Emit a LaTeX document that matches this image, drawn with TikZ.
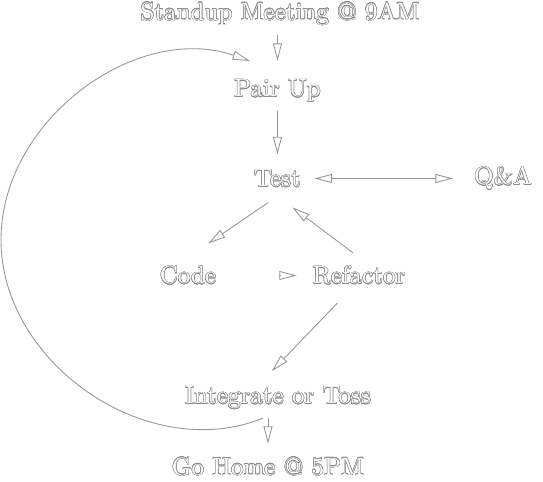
\documentclass[tikz,border=0pt]{standalone}
\usepackage{xcolor}
\usepackage{contour}
\contourlength{0.2pt}
\contournumber{16}
\definecolor{rimgray}{RGB}{140,140,140}
\definecolor{linkgray}{RGB}{150,150,150}
\usetikzlibrary{arrows.meta, positioning, calc}

\tikzset{
  stage/.style={text=white, inner sep=3.33pt},
  flow/.style={-{Triangle[open, length=7pt, width=3.6pt]}, draw=linkgray, line width=0.35pt, shorten >=3pt},
  both/.style={{Triangle[open, length=7pt, width=3.6pt]}-{Triangle[open, length=7pt, width=3.6pt]}, draw=linkgray, line width=0.35pt}
}
\newcommand{\hollow}[1]{\contour{rimgray}{#1}}

\begin{document}
\begin{tikzpicture}[>=Stealth]
    \useasboundingbox (0,0) rectangle (7.634,6.776);

    % the day
    \node[stage] (standup)   at (3.936,6.579) {\hollow{Standup Meeting @ 9AM}};
    \node[stage] (pairup)    at (3.901,5.497) {\hollow{Pair Up}};
    \node[stage] (test)      at (3.901,4.267) {\hollow{Test}};
    \node[stage] (qa)        at (7.072,4.267) {\hollow{Q\&A}};
    \node[stage] (code)      at (2.643,2.903) {\hollow{Code}};
    \node[stage] (refactor)  at (5.047,2.903) {\hollow{Refactor}};
    \node[stage] (integrate) at (3.908,1.181) {\hollow{Integrate or Toss}};
    \node[stage] (gohome)    at (3.768,0.211) {\hollow{Go Home @ 5PM}};
    \coordinate (turn) at (0.014,3.403);

    \draw[flow, shorten >=4pt] (pairup.north |- standup.south) -- (pairup.north);
    \draw[flow, shorten >=2.6pt] (pairup.south) -- (test.north);
    \draw[both, shorten <=2pt, shorten >=5pt] (test.east) -- (qa.west);
    \draw[flow, shorten <=4.5pt, shorten >=9.8pt] (test.south) -- (code.north);
    \draw[flow, shorten <=22.4pt, shorten >=2.8pt] (code) -- (refactor);
    \draw[flow, shorten <=3pt, shorten >=7.5pt] (refactor.north) -- (test.south);
    \draw[flow, shorten <=5.2pt, shorten >=3.7pt] ([xshift=-5pt]refactor.south) -- ([xshift=-5pt]integrate.north);
    \draw[flow, shorten >=2pt] (gohome.north |- integrate.south) -- (gohome.north);

    % back round to the next pair
    \draw[flow, shorten >=0pt] ($(gohome.north |- integrate.south)+(-2pt,0)$) to[out=202, in=-90] (turn)
        to[out=90, in=161] ([shift={(-11pt,4pt)}]pairup.north);
\end{tikzpicture}
\end{document}
